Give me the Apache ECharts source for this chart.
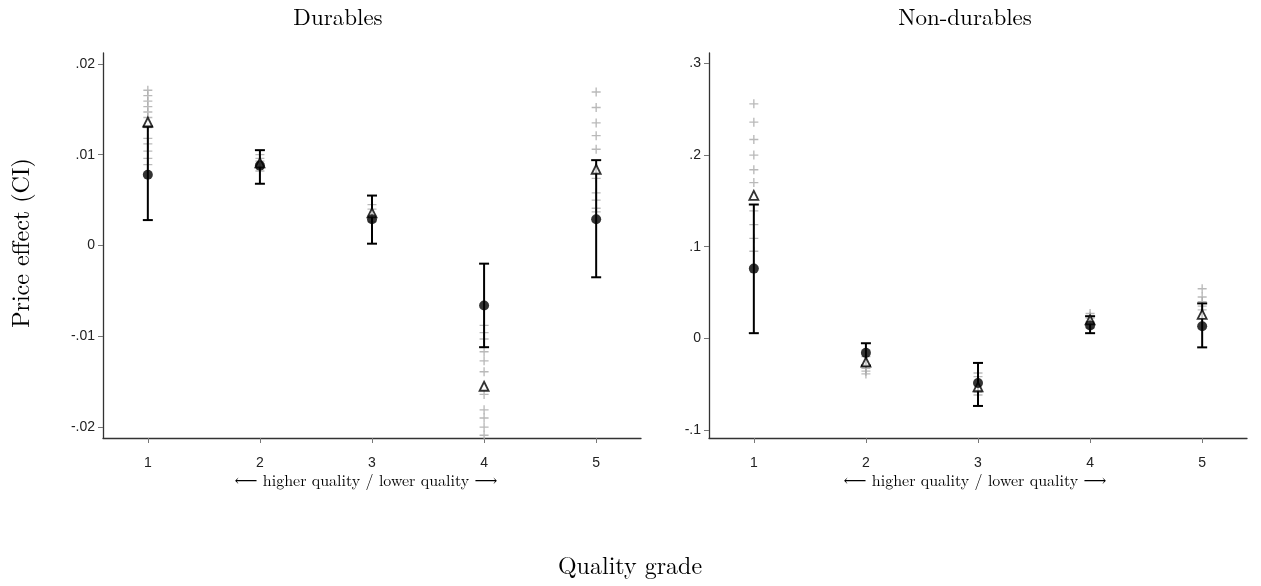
<!DOCTYPE html>
<html>
<head>
<meta charset="utf-8">
<script src="https://cdn.jsdelivr.net/npm/echarts@6/dist/echarts.min.js"></script>
<style>
  html, body { margin: 0; padding: 0; background: #fff; }
  #chart { width: 1261px; height: 586px; }
</style>
</head>
<body>
<div id="chart"></div>
<script>
// quality grades (x)
var grades = [1, 2, 3, 4, 5];

// Durables: point estimate, CI bounds, triangle estimate, grey crosses per grade
var durEst = [0.0078, 0.0088, 0.0029, -0.0066, 0.0029];
var durLow = [0.0028, 0.0068, 0.0002, -0.0112, -0.0035];
var durHigh = [0.0131, 0.0105, 0.0055, -0.0020, 0.0094];
var durTri = [0.0136, 0.0091, 0.0036, -0.0155, 0.0084];
var durCross = [
  [0.0171, 0.0165, 0.0159, 0.0153, 0.0147, 0.0141, 0.0130, 0.0118, 0.0112, 0.0104, 0.0096, 0.0089],
  [0.0100, 0.0096, 0.0093, 0.0085, 0.0082],
  [0.0045, 0.0040, 0.0033, 0.0026],
  [-0.0088, -0.0096, -0.0103, -0.0117, -0.0127, -0.0139, -0.0164, -0.0181, -0.0190, -0.0200, -0.0209],
  [0.0169, 0.0152, 0.0135, 0.0121, 0.0106, 0.0074, 0.0058, 0.0050, 0.0041, 0.0037]
];
var durTicks = [-0.02, -0.01, 0, 0.01, 0.02];

// Non-durables
var ndEst = [0.076, -0.016, -0.049, 0.014, 0.013];
var ndLow = [0.0055, -0.030, -0.074, 0.0055, -0.010];
var ndHigh = [0.146, -0.0055, -0.027, 0.024, 0.038];
var ndTri = [0.156, -0.026, -0.053, 0.020, 0.026];
var ndCross = [
  [0.256, 0.236, 0.217, 0.200, 0.184, 0.170, 0.139, 0.124, 0.109, 0.095],
  [-0.020, -0.029, -0.033, -0.036, -0.039],
  [-0.038, -0.042, -0.059, -0.062],
  [0.027, 0.024, 0.022, 0.018, 0.016, 0.011],
  [0.054, 0.045, 0.040, 0.035, 0.031, 0.022]
];
var ndTicks = [-0.1, 0, 0.1, 0.2, 0.3];

var plusPath = 'path://M3.4,0H4.6V3.4H8V4.6H4.6V8H3.4V4.6H0V3.4H3.4Z';

// 误差线
function renderErr(params, api) {
  var x = api.value(0);
  var lo = api.coord([x, api.value(1)]);
  var hi = api.coord([x, api.value(2)]);
  var w = 5;
  var st = { stroke: '#000', lineWidth: 2 };
  return {
    type: 'group',
    children: [
      { type: 'line', shape: { x1: lo[0], y1: lo[1], x2: hi[0], y2: hi[1] }, style: st },
      { type: 'line', shape: { x1: hi[0] - w, y1: hi[1], x2: hi[0] + w, y2: hi[1] }, style: st },
      { type: 'line', shape: { x1: lo[0] - w, y1: lo[1], x2: lo[0] + w, y2: lo[1] }, style: st }
    ]
  };
}

function panelSeries(i, est, low, high, tri, cross) {
  var crossData = [];
  cross.forEach(function (vals, k) {
    vals.forEach(function (v) { crossData.push([grades[k], v]); });
  });
  return [
    {
      type: 'scatter', xAxisIndex: i, yAxisIndex: i, silent: true,
      symbol: plusPath, symbolSize: 9,
      itemStyle: { color: '#a8a8a8' },
      data: crossData, z: 1
    },
    {
      type: 'custom', xAxisIndex: i, yAxisIndex: i, silent: true,
      renderItem: renderErr,
      encode: { x: 0, y: [1, 2] },
      data: grades.map(function (g, k) { return [g, low[k], high[k]]; }), z: 2
    },
    {
      type: 'scatter', xAxisIndex: i, yAxisIndex: i, silent: true,
      symbol: 'triangle', symbolSize: 9,
      itemStyle: { color: '#fff', borderColor: '#000', borderWidth: 1.8 },
      data: grades.map(function (g, k) { return [g, tri[k]]; }), z: 3
    },
    {
      type: 'scatter', xAxisIndex: i, yAxisIndex: i, silent: true,
      symbol: 'circle', symbolSize: 10,
      itemStyle: { color: '#000' },
      data: grades.map(function (g, k) { return [g, est[k]]; }), z: 4
    }
  ];
}

function fmt(v) {
  if (v === 0) return '0';
  return String(v).replace('0.', '.');
}

function xAxis(i) {
  return {
    type: 'value', gridIndex: i, min: 0.6, max: 5.4,
    splitLine: { show: false },
    axisLine: { onZero: false, lineStyle: { color: '#333', width: 1.3 } },
    axisTick: { customValues: grades, length: 5, lineStyle: { color: '#777' } },
    axisLabel: { customValues: grades, margin: 18, color: '#222', fontSize: 14, fontFamily: 'Liberation Sans' }
  };
}

function yAxis(i, min, max, ticks) {
  return {
    type: 'value', gridIndex: i, min: min, max: max,
    splitLine: { show: false },
    axisLine: { show: true, lineStyle: { color: '#333', width: 1.3 } },
    axisTick: { show: true, customValues: ticks, length: 5, lineStyle: { color: '#777' } },
    axisLabel: { customValues: ticks, formatter: fmt, margin: 8, color: '#222', fontSize: 14, fontFamily: 'Liberation Sans' }
  };
}

var serif = 'Latin Modern Roman, Liberation Serif, DejaVu Serif, serif';

var options = {
  backgroundColor: '#fff',
  animation: false,
  grid: [
    { left: 103, top: 53, width: 538, height: 385 },
    { left: 709, top: 53, width: 538, height: 385 }
  ],
  xAxis: [xAxis(0), xAxis(1)],
  yAxis: [yAxis(0, -0.0212, 0.0212, durTicks), yAxis(1, -0.109, 0.3115, ndTicks)],
  graphic: [
    { type: 'text', x: 338, y: 18, style: { text: 'Durables', font: '23px ' + serif, fill: '#000', textAlign: 'center', textVerticalAlign: 'middle' } },
    { type: 'text', x: 965, y: 18, style: { text: 'Non-durables', font: '23px ' + serif, fill: '#000', textAlign: 'center', textVerticalAlign: 'middle' } },
    { type: 'text', x: 22, y: 243, rotation: Math.PI / 2, style: { text: 'Price effect (CI)', font: '24px ' + serif, fill: '#000', textAlign: 'center', textVerticalAlign: 'middle' } },
    { type: 'text', x: 366, y: 481, style: { text: '\u27F5 higher quality / lower quality \u27F6', font: '16px ' + serif, fill: '#000', textAlign: 'center', textVerticalAlign: 'middle' } },
    { type: 'text', x: 975, y: 481, style: { text: '\u27F5 higher quality / lower quality \u27F6', font: '16px ' + serif, fill: '#000', textAlign: 'center', textVerticalAlign: 'middle' } },
    { type: 'text', x: 630, y: 567, style: { text: 'Quality grade', font: '24px ' + serif, fill: '#000', textAlign: 'center', textVerticalAlign: 'middle' } }
  ],
  series: [].concat(
    panelSeries(0, durEst, durLow, durHigh, durTri, durCross),
    panelSeries(1, ndEst, ndLow, ndHigh, ndTri, ndCross)
  )
};

var myChart = echarts.init(document.getElementById('chart'));
myChart.setOption(options);
</script>
</body>
</html>
